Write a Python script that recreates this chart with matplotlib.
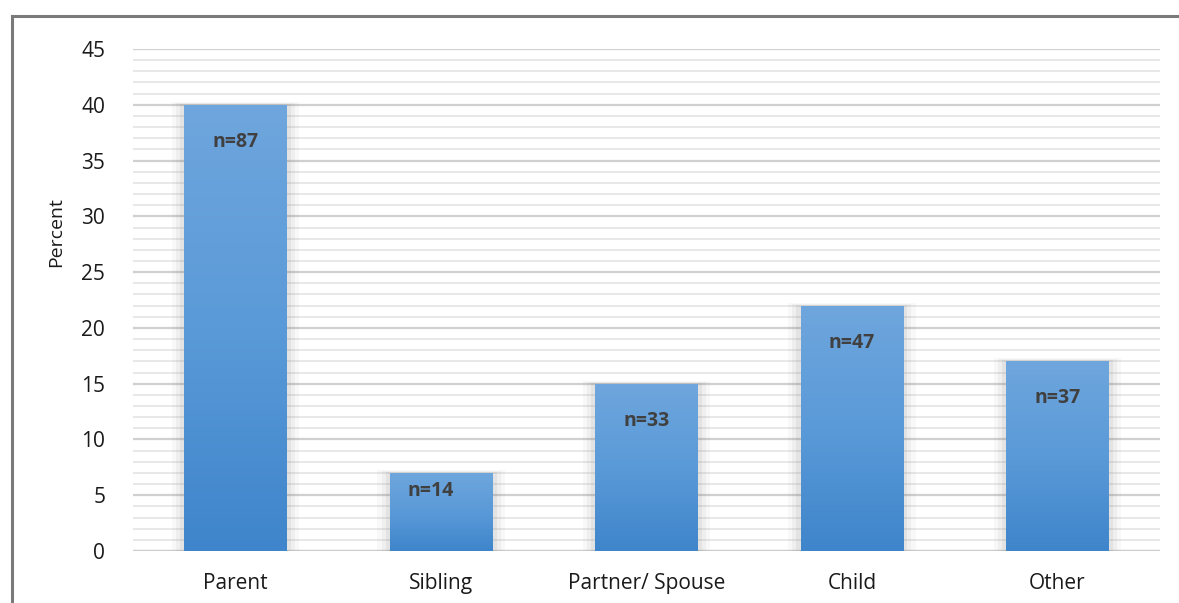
import numpy as np
import matplotlib
matplotlib.use("Agg")
import matplotlib.pyplot as plt
from matplotlib.patches import Rectangle
from matplotlib.lines import Line2D
from matplotlib.colors import LinearSegmentedColormap

categories = ["Parent", "Sibling", "Partner/ Spouse", "Child", "Other"]
percent = [40, 7, 15, 22, 17]
counts = [87, 14, 33, 47, 37]

plt.rcParams["font.family"] = ["Open Sans", "DejaVu Sans"]

fig = plt.figure(figsize=(11.79, 6.03), dpi=100)
ax = fig.add_axes([0.1128, 0.0862, 0.8711, 0.8325])

x = np.arange(len(categories))
width = 0.5

# soft shadow behind each bar
for xi, v in zip(x, percent):
    for k, a in zip([0.06, 0.04, 0.02], [0.05, 0.07, 0.10]):
        ax.add_patch(Rectangle((xi - width / 2 - k, 0), width + 2 * k, v + k * 4.5,
                               facecolor="#7f7f7f", edgecolor="none", alpha=a, zorder=2))

bars = ax.bar(x, percent, width=width, color="#5b9bd5", zorder=3)

grad = LinearSegmentedColormap.from_list("bar", ["#3f85cb", "#5a9ad8", "#6fa6dd"])
for b in bars:
    x0, y0 = b.get_x(), b.get_y()
    im = ax.imshow(np.linspace(0, 1, 256).reshape(-1, 1), cmap=grad, origin="lower",
                   aspect="auto", extent=[x0, x0 + b.get_width(), y0, y0 + b.get_height()],
                   zorder=4)
    im.set_clip_path(b)

for xi, v, n in zip(x, percent, counts):
    off = -18 if v < 10 else -37
    dx = -10 if v < 10 else 0
    ax.annotate(f"n={n}", (xi, v), xytext=(dx, off), textcoords="offset pixels",
                ha="center", va="center", fontsize=14, fontweight="bold",
                color="#404040", zorder=5)

ax.set_xlim(-0.5, len(categories) - 0.5)
ax.set_ylim(0, 45)
ax.set_yticks(np.arange(0, 46, 5))
ax.set_yticks(np.arange(0, 46, 1), minor=True)
ax.grid(which="major", axis="y", color="#d0d0d0", linewidth=1.6, zorder=0)
ax.grid(which="minor", axis="y", color="#e4e4e4", linewidth=1.2, zorder=0)
ax.set_axisbelow(True)
ax.set_xticks(x)
ax.set_xticklabels(categories)
ax.tick_params(axis="both", which="both", length=0, labelsize=15, colors="#1a1a1a")
ax.tick_params(axis="x", pad=16)
ax.tick_params(axis="y", pad=20)
for s in ax.spines.values():
    s.set_visible(False)
ax.axhline(0, color="#cccccc", linewidth=1.6, zorder=1)
ax.set_ylabel("Percent", fontsize=14, color="#1a1a1a")
ax.yaxis.set_label_coords(-0.066, 0.635)

# outer frame
fl, ft = 12 / 1179, 1 - 16 / 603
fig.add_artist(Line2D([fl, 1], [ft, ft], transform=fig.transFigure, color="#7a7a7a", linewidth=2.2))
fig.add_artist(Line2D([fl, fl], [0, ft], transform=fig.transFigure, color="#7a7a7a", linewidth=2.2))

fig.savefig("out.png", dpi=100)
